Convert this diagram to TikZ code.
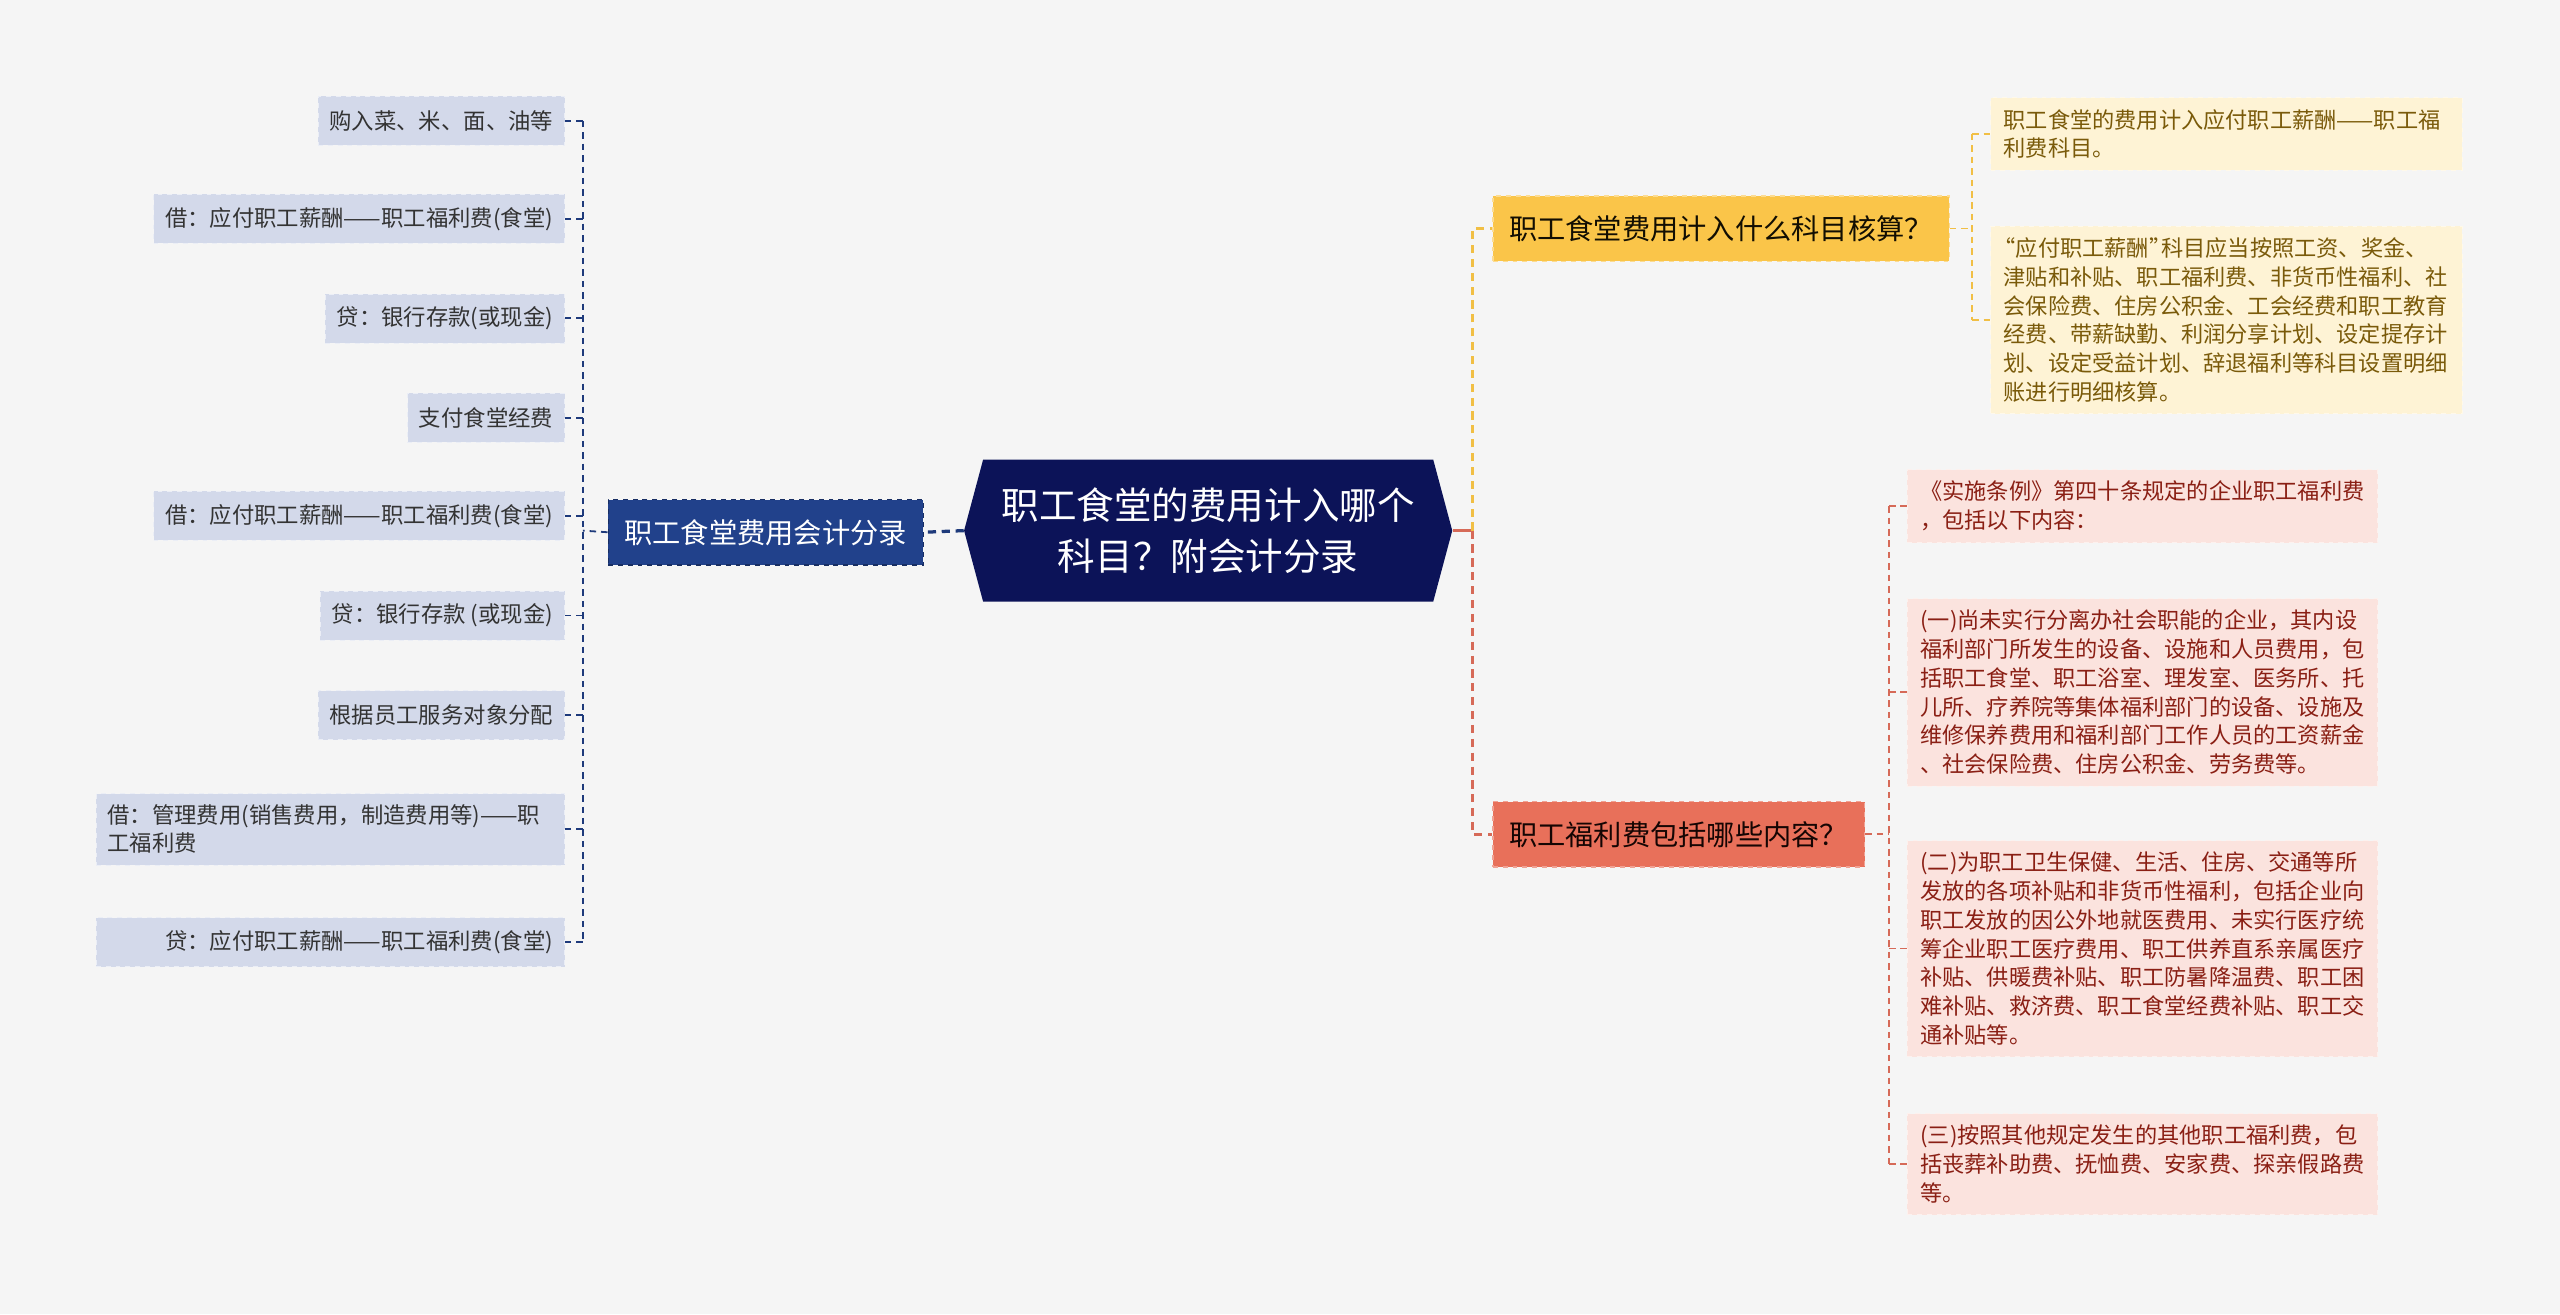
\documentclass[tikz,border=0pt]{standalone}
\usepackage{fontspec}
\setmainfont{Noto Sans CJK SC}
\usepackage{tikz}
\usetikzlibrary{shapes,positioning,calc}

\definecolor{bgcol}{HTML}{F5F5F5}
\definecolor{rootcol}{HTML}{0C1358}
\definecolor{blueB}{HTML}{21418B}
\definecolor{blueLine}{HTML}{1E3A7B}
\definecolor{blueLeaf}{HTML}{D3D9EA}
\definecolor{yelB}{HTML}{FAC549}
\definecolor{yelLine}{HTML}{F1BF45}
\definecolor{yelLeaf}{HTML}{FEF3D5}
\definecolor{yelText}{HTML}{7A5A0A}
\definecolor{redB}{HTML}{E8705A}
\definecolor{redLine}{HTML}{D66A58}
\definecolor{redLeaf}{HTML}{FBE3DE}
\definecolor{redText}{HTML}{8A1F14}

\tikzstyle{lineL} = [draw=blueLine, line width=1.1pt, dash pattern=on 4pt off 3pt]
\tikzstyle{lineY} = [draw=yelLine, line width=1.1pt, dash pattern=on 4pt off 3pt]
\tikzstyle{lineR} = [draw=redLine, line width=1.1pt, dash pattern=on 4pt off 3pt]
\tikzstyle{thick line} = [line width=2pt, dash pattern=on 5pt off 3.5pt]
\tikzstyle{leafL} = [rectangle, fill=blueLeaf, draw=white!55!blueLeaf, dashed, text=black!80, font=\fontsize{13.7}{17.2}\selectfont, inner xsep=7pt, inner ysep=7pt, minimum height=30pt, anchor=east]
\tikzstyle{leafY} = [rectangle, fill=yelLeaf, draw=white!50!yelLeaf, dashed, text=yelText, font=\fontsize{13.6}{17.6}\selectfont, inner xsep=8pt, inner ysep=7pt, text width=273pt, align=left, anchor=west]
\tikzstyle{leafR} = [rectangle, fill=redLeaf, draw=white!50!redLeaf, dashed, text=redText, font=\fontsize{13.6}{17.6}\selectfont, inner xsep=8pt, inner ysep=7pt, text width=272pt, align=left, anchor=west]
\tikzstyle{branch} = [rectangle, dashed, line width=0.8pt, font=\fontsize{17.3}{20}\selectfont, inner xsep=10pt, minimum height=40pt]

\begin{document}
\begin{tikzpicture}[x=1pt, y=-1pt]
    \fill [bgcol] (0,0) rectangle (1568,805);
    \useasboundingbox (0,0) rectangle (1568,805);

    % centre
    \node [signal, signal to=west and east, signal pointer angle=150, fill=rootcol, text=white, minimum width=299pt, minimum height=87pt, align=center, font=\fontsize{23}{31}\selectfont] (root) at (740,325) {职工食堂的费用计入哪个\\科目？附会计分录};

    % left branch
    \node [branch, fill=blueB, draw=blueLine!80!black, text=white] (entry) at (469,326) {职工食堂费用会计分录};
    \node [leafL] (buy) at (346,74) {购入菜、米、面、油等};
    \node [leafL] (debA) at (346,134) {借：应付职工薪酬——职工福利费(食堂)};
    \node [leafL] (creA) at (346,195) {贷：银行存款(或现金)};
    \node [leafL] (pay) at (346,256) {支付食堂经费};
    \node [leafL] (debB) at (346,316) {借：应付职工薪酬——职工福利费(食堂)};
    \node [leafL] (creB) at (346,377) {贷：银行存款 (或现金)};
    \node [leafL] (alloc) at (346,438) {根据员工服务对象分配};
    \node [leafL, text width=273pt, align=left] (debC) at (346,508) {借：管理费用(销售费用，制造费用等)——职\\工福利费};
    \node [leafL, text width=273pt, align=right] (creC) at (346,577) {贷：应付职工薪酬——职工福利费(食堂)};

    % right branches
    \node [branch, fill=yelB, draw=yelB!60!white, text=black!85!yelText, anchor=west] (subj) at (914,140) {职工食堂费用计入什么科目核算？};
    \node [branch, fill=redB, draw=redB!65!white, text=black!85!redText, anchor=west] (welf) at (914,511) {职工福利费包括哪些内容？};

    \node [leafY] (subjA) at (1219,82) {职工食堂的费用计入应付职工薪酬——职工福\\利费科目。};
    \node [leafY] (subjB) at (1219,196) {\hspace*{-0.45em}“应付职工薪酬”\hspace{-0.45em}科目应当按照工资、奖金、\\津贴和补贴、职工福利费、非货币性福利、社\\会保险费、住房公积金、工会经费和职工教育\\经费、带薪缺勤、利润分享计划、设定提存计\\划、设定受益计划、辞退福利等科目设置明细\\账进行明细核算。};

    \node [leafR] (welfA) at (1168,310) {《实施条例》第四十条规定的企业职工福利费\\，包括以下内容：};
    \node [leafR] (welfB) at (1168,424) {(一)尚未实行分离办社会职能的企业，其内设\\福利部门所发生的设备、设施和人员费用，包\\括职工食堂、职工浴室、理发室、医务所、托\\儿所、疗养院等集体福利部门的设备、设施及\\维修保养费用和福利部门工作人员的工资薪金\\、社会保险费、住房公积金、劳务费等。};
    \node [leafR] (welfC) at (1168,581) {(二)为职工卫生保健、生活、住房、交通等所\\发放的各项补贴和非货币性福利，包括企业向\\职工发放的因公外地就医费用、未实行医疗统\\筹企业职工医疗费用、职工供养直系亲属医疗\\补贴、供暖费补贴、职工防暑降温费、职工困\\难补贴、救济费、职工食堂经费补贴、职工交\\通补贴等。};
    \node [leafR] (welfD) at (1168,713) {(三)按照其他规定发生的其他职工福利费，包\\括丧葬补助费、抚恤费、安家费、探亲假路费\\等。};

    % connectors
    \coordinate (trL) at (357,325);
    \coordinate (trR) at (902,325);
    \coordinate (trY) at (1208,140);
    \coordinate (trW) at (1157,511);

    \path [lineL, thick line] (root.west) -- (entry.east);
    \path [lineL] (entry.west) -- (trL);
    \path [lineL] (buy.east -| trL) -- (creC.east -| trL);
    \foreach \n in {buy,debA,creA,pay,debB,creB,alloc,debC,creC}
        \path [lineL] (\n.east) -- (\n.east -| trL);

    \path [draw=redLine, line width=2pt] (root.east) -- (trR);
    \path [lineY, thick line] (trR) |- (subj.west);
    \path [lineR, thick line] (trR) |- (welf.west);

    \path [lineY] (subj.east) -- (trY);
    \path [lineY] (subjA.west -| trY) -- (subjB.west -| trY);
    \foreach \n in {subjA,subjB}
        \path [lineY] (\n.west -| trY) -- (\n.west);

    \path [lineR] (welf.east) -- (trW);
    \path [lineR] (welfA.west -| trW) -- (welfD.west -| trW);
    \foreach \n in {welfA,welfB,welfC,welfD}
        \path [lineR] (\n.west -| trW) -- (\n.west);
\end{tikzpicture}
\end{document}
